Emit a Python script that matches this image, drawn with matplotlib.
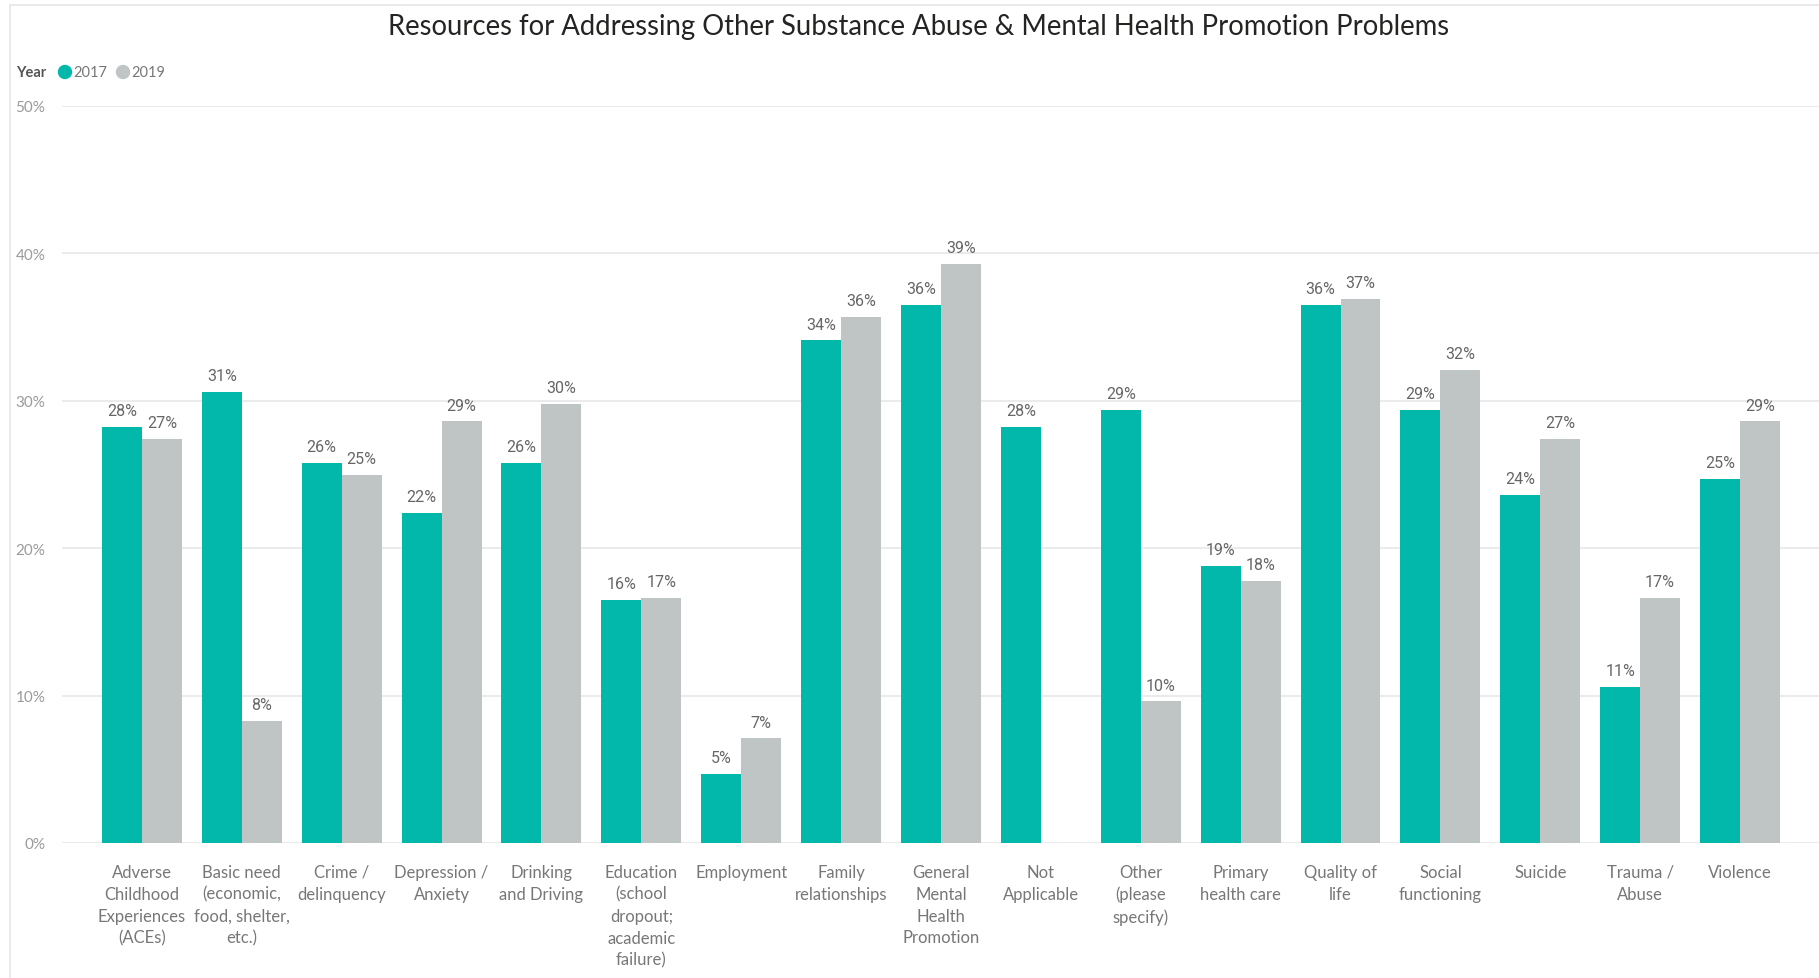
import matplotlib
matplotlib.use("Agg")
import matplotlib.pyplot as plt
import numpy as np
from matplotlib import font_manager

# values (percent)
categories = [
    "Adverse\nChildhood\nExperiences\n(ACEs)",
    "Basic need\n(economic,\nfood, shelter,\netc.)",
    "Crime /\ndelinquency",
    "Depression /\nAnxiety",
    "Drinking\nand Driving",
    "Education\n(school\ndropout;\nacademic\nfailure)",
    "Employment",
    "Family\nrelationships",
    "General\nMental\nHealth\nPromotion",
    "Not\nApplicable",
    "Other\n(please\nspecify)",
    "Primary\nhealth care",
    "Quality of\nlife",
    "Social\nfunctioning",
    "Suicide",
    "Trauma /\nAbuse",
    "Violence",
]
y2017 = [28.2, 30.6, 25.8, 22.4, 25.8, 16.5, 4.7, 34.1, 36.5, 28.2, 29.4, 18.8, 36.5, 29.4, 23.6, 10.6, 24.7]
y2019 = [27.4, 8.3, 25.0, 28.6, 29.8, 16.6, 7.1, 35.7, 39.3, None, 9.6, 17.8, 36.9, 32.1, 27.4, 16.6, 28.6]
years = ["2017", "2019"]
yticks = [0, 10, 20, 30, 40, 50]

teal = "#01B8AA"
grey = "#BFC4C4"

installed = {f.name for f in font_manager.fontManager.ttflist}
main_font = "Lato" if "Lato" in installed else "DejaVu Sans"
narrow_font = "Liberation Sans Narrow" if "Liberation Sans Narrow" in installed else "Roboto"
plt.rcParams["font.family"] = main_font

W, H = 1819, 979
fig = plt.figure(figsize=(W / 100, H / 100), dpi=100)

# light frame round the visual
fig.add_artist(plt.Line2D([10 / W, 10 / W], [0, 1 - 6 / H], color="#E6E6E6", lw=1.2))
fig.add_artist(plt.Line2D([10 / W, 1], [1 - 6 / H, 1 - 6 / H], color="#E6E6E6", lw=1.2))

ax = fig.add_axes([62 / W, (H - 844) / H, 1 - 62 / W, (844 - 107) / H])

x = np.arange(len(categories))
w = 0.4
a = np.array(y2017, dtype=float)
b = np.array([np.nan if v is None else v for v in y2019], dtype=float)
ax.bar(x - w / 2, a, w, color=teal, zorder=3)
ax.bar(x + w / 2, np.nan_to_num(b), w, color=grey, zorder=3)

for xi, v in zip(x - w / 2, a):
    ax.text(xi, v + 0.6, f"{v:.0f}%", ha="center", va="bottom", fontsize=11.5,
            color="#666666", family=narrow_font)
for xi, v in zip(x + w / 2, b):
    if np.isnan(v):
        continue
    ax.text(xi, v + 0.6, f"{v:.0f}%", ha="center", va="bottom", fontsize=11.5,
            color="#666666", family=narrow_font)

ax.set_xlim(-0.8, 16.79)
ax.set_ylim(0, 50)
ax.set_yticks(yticks)
ax.set_yticklabels([f"{t}%" for t in yticks])
ax.set_xticks(x)
ax.set_xticklabels(categories, fontsize=12, color="#777777", linespacing=1.45)
ax.tick_params(axis="x", length=0, pad=15)
ax.tick_params(axis="y", length=0, pad=12, labelsize=11, labelcolor="#9A9A9A")
ax.yaxis.grid(True, color="#E8E8E8", lw=1.2, zorder=0)
for s in ax.spines.values():
    s.set_visible(False)

fig.text(919 / W, 1 - 27 / H, "Resources for Addressing Other Substance Abuse & Mental Health Promotion Problems",
         ha="center", va="center", fontsize=19.8, color="#252423")

# legend
ly = 1 - 73 / H
fig.text(16 / W, ly, "Year", fontsize=10.5, fontweight="bold", color="#555555", va="center")
fig.add_artist(matplotlib.patches.Ellipse((65 / W, ly), 13 / W, 13 / H, color=teal))
fig.text(73 / W, ly, years[0], fontsize=10.5, color="#777777", va="center")
fig.add_artist(matplotlib.patches.Ellipse((123 / W, ly), 13 / W, 13 / H, color=grey))
fig.text(131 / W, ly, years[1], fontsize=10.5, color="#777777", va="center")

fig.savefig("out.png", dpi=100, facecolor="white")
